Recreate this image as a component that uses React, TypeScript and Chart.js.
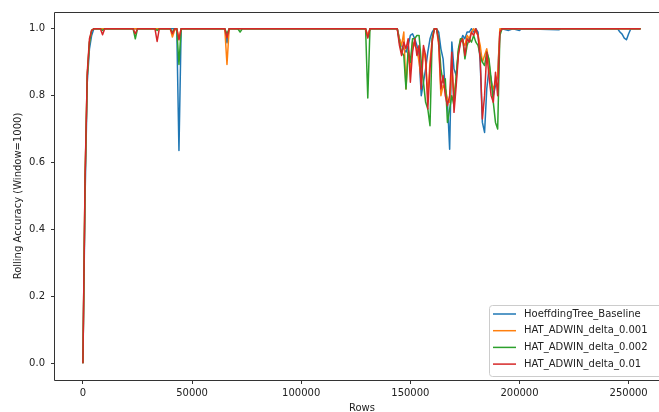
import React, { useEffect, useRef } from 'react';
import { Chart, registerables } from 'chart.js';

Chart.register(...registerables);

// Shared x positions (rows)
const rows = [
  0, 1000, 2000, 3000, 4000, 5000,
  8000, 9000, 10000,
  23000, 24000, 25000,
  33000, 34000, 35000,
  40000, 41000, 42000, 43000, 44000, 45000,
  65000, 66000, 67000,
  71000, 72000, 73000,
  129500, 130500, 131500,
  143000, 144000, 145000, 146000, 147000, 148000, 149000, 150000, 151000, 152000,
  153000, 154000, 155000, 156000, 157000, 158000, 159000, 160000, 161000, 162000,
  163000, 164000, 165000, 166000, 167000, 168000, 169000, 170000, 171000, 172000,
  173000, 174000, 175000, 176000, 177000, 178000, 179000, 180000, 181000, 182000,
  183000, 184000, 185000, 186000, 187000, 188000, 189000, 190000, 191000, 192000,
  195000, 197000, 200000, 201000, 218000, 219000,
  245000, 246000, 247000, 248000, 249000, 250000, 251000,
  255500,
];

const hoeffdingBaseline = [
  0, 0.50, 0.84, 0.94, 0.98, 1,
  1, 1, 1,
  1, 1, 1,
  1, 1, 1,
  1, 1, 1, 1, 0.636, 1,
  1, 0.958, 1,
  1, 1, 1,
  1, 0.975, 1,
  1, 1, 0.97, 0.95, 0.94, 0.93, 0.95, 0.98, 0.985, 0.97,
  0.95, 0.92, 0.80, 0.84, 0.88, 0.93, 0.97, 0.99, 1, 1,
  0.99, 0.94, 0.91, 0.82, 0.78, 0.64, 0.96, 0.88, 0.86, 0.93,
  0.96, 0.98, 0.97, 0.99, 0.99, 1, 0.99, 1, 0.99, 0.90,
  0.72, 0.69, 0.82, 0.88, 0.85, 0.80, 0.83, 0.86, 0.99, 1,
  0.995, 1, 0.995, 1, 0.997, 1,
  1, 0.99, 0.984, 0.972, 0.967, 0.985, 1,
  1,
];

const hatDelta0001 = [
  0, 0.55, 0.86, 0.96, 0.995, 1,
  1, 1, 1,
  1, 1, 1,
  1, 1, 1,
  1, 0.975, 0.995, 1, 0.97, 1,
  1, 0.893, 1,
  1, 1, 1,
  1, 0.98, 1,
  1, 1, 0.97, 0.95, 0.99, 0.82, 0.93, 0.88, 0.96, 0.95,
  0.94, 0.90, 0.85, 0.94, 0.90, 0.80, 0.90, 0.97, 1, 1,
  0.95, 0.80, 0.83, 0.82, 0.79, 0.78, 0.88, 0.80, 0.85, 0.93,
  0.97, 0.96, 0.95, 0.98, 0.97, 0.99, 1, 0.99, 0.98, 0.95,
  0.90, 0.92, 0.94, 0.90, 0.84, 0.82, 0.84, 0.86, 1, 1,
  1, 1, 1, 1, 1, 1,
  1, 1, 1, 1, 1, 1, 1,
  1,
];

const hatDelta0002 = [
  0, 0.55, 0.86, 0.96, 0.995, 1,
  1, 0.995, 1,
  1, 0.97, 1,
  1, 0.995, 1,
  1, 0.99, 1, 1, 0.893, 1,
  1, 0.985, 1,
  1, 0.99, 1,
  1, 0.793, 1,
  1, 1, 0.96, 0.93, 0.92, 0.82, 0.94, 0.90, 0.97, 0.97,
  0.98, 0.98, 0.90, 0.84, 0.78, 0.76, 0.71, 0.97, 1, 1,
  0.97, 0.88, 0.84, 0.85, 0.72, 0.76, 0.80, 0.77, 0.86, 0.94,
  0.97, 0.97, 0.91, 0.95, 0.97, 0.96, 0.98, 0.96, 0.95, 0.92,
  0.90, 0.89, 0.93, 0.91, 0.85, 0.78, 0.72, 0.70, 0.98, 1,
  1, 1, 1, 1, 1, 1,
  1, 1, 1, 1, 1, 1, 1,
  1,
];

const hatDelta001 = [
  0, 0.56, 0.87, 0.97, 0.995, 1,
  1, 0.982, 1,
  1, 0.985, 1,
  1, 0.962, 1,
  1, 0.985, 1, 1, 0.967, 1,
  1, 0.973, 1,
  1, 1, 1,
  1, 0.972, 1,
  1, 1, 0.95, 0.92, 0.96, 0.94, 0.97, 0.84, 0.93, 0.97,
  0.92, 0.95, 0.82, 0.95, 0.92, 0.76, 0.88, 0.96, 1, 1,
  0.96, 0.82, 0.86, 0.80, 0.77, 0.80, 0.93, 0.75, 0.83, 0.92,
  0.96, 0.97, 0.92, 0.97, 0.96, 0.99, 0.98, 1, 0.98, 0.91,
  0.73, 0.80, 0.93, 0.86, 0.80, 0.78, 0.87, 0.80, 0.99, 1,
  1, 1, 1, 1, 1, 1,
  1, 1, 1, 1, 1, 1, 1,
  1,
];

const seriesNames = [
  'HoeffdingTree_Baseline',
  'HAT_ADWIN_delta_0.001',
  'HAT_ADWIN_delta_0.002',
  'HAT_ADWIN_delta_0.01',
];
const seriesValues = [hoeffdingBaseline, hatDelta0001, hatDelta0002, hatDelta001];
const seriesColors = ['#1f77b4', '#ff7f0e', '#2ca02c', '#d62728'];
const xTicks = [0, 50000, 100000, 150000, 200000, 250000];
const yTicks = [0, 0.2, 0.4, 0.6, 0.8, 1.0];

const FONT = 'DejaVu Sans';
const TEXT = '#222222';

const spinesPlugin = {
  id: 'spines',
  afterDatasetsDraw(chart: any) {
    const { ctx, chartArea } = chart;
    const { left, top, right, bottom } = chartArea;
    ctx.save();
    ctx.strokeStyle = '#333333';
    ctx.lineWidth = 1;
    ctx.beginPath();
    ctx.moveTo(Math.round(left) - 0.5, Math.round(bottom) + 0.5);
    ctx.lineTo(Math.round(left) - 0.5, Math.round(top) + 0.5);
    ctx.lineTo(Math.round(right) + 0.5, Math.round(top) + 0.5);
    ctx.lineTo(Math.round(right) + 0.5, Math.round(bottom) + 0.5);
    ctx.closePath();
    ctx.stroke();
    ctx.restore();
  },
};

const legendPlugin = {
  id: 'mplLegend',
  afterDraw(chart: any) {
    const ctx = chart.ctx;
    ctx.save();
    const x0 = 489.5;
    const y0 = 305.5;
    const w = 200;
    const h = 71;
    const r = 3;
    ctx.beginPath();
    ctx.moveTo(x0 + r, y0);
    ctx.lineTo(x0 + w - r, y0);
    ctx.arcTo(x0 + w, y0, x0 + w, y0 + r, r);
    ctx.lineTo(x0 + w, y0 + h - r);
    ctx.arcTo(x0 + w, y0 + h, x0 + w - r, y0 + h, r);
    ctx.lineTo(x0 + r, y0 + h);
    ctx.arcTo(x0, y0 + h, x0, y0 + h - r, r);
    ctx.lineTo(x0, y0 + r);
    ctx.arcTo(x0, y0, x0 + r, y0, r);
    ctx.closePath();
    ctx.fillStyle = 'rgba(255,255,255,0.8)';
    ctx.fill();
    ctx.strokeStyle = '#cccccc';
    ctx.lineWidth = 1;
    ctx.stroke();
    ctx.font = `10px "${FONT}"`;
    ctx.textBaseline = 'middle';
    ctx.textAlign = 'left';
    seriesNames.forEach((name, i) => {
      const y = 314 + i * 16.7;
      ctx.strokeStyle = seriesColors[i];
      ctx.lineWidth = 1.5;
      ctx.beginPath();
      ctx.moveTo(493, y);
      ctx.lineTo(516, y);
      ctx.stroke();
      ctx.fillStyle = TEXT;
      ctx.fillText(name, 524, y);
    });
    ctx.restore();
  },
};

export default function App() {
  const canvasRef = useRef<HTMLCanvasElement | null>(null);

  useEffect(() => {
    const canvas = canvasRef.current;
    if (!canvas) return;
    const order = [3, 2, 1, 0];
    const datasets = order.map((i) => ({
      label: seriesNames[i],
      data: rows.map((r, k) => ({ x: r, y: seriesValues[i][k] })),
      borderColor: seriesColors[i],
      backgroundColor: seriesColors[i],
      borderWidth: 1.5,
      pointRadius: 0,
      tension: 0,
      fill: false,
      borderJoinStyle: 'round' as const,
    }));

    const chart = new Chart(canvas, {
      type: 'line',
      data: { datasets },
      options: {
        animation: false,
        responsive: false,
        devicePixelRatio: 1,
        events: [],
        layout: { padding: { left: 0, top: 12, right: 11, bottom: 0 } },
        plugins: {
          legend: { display: false },
          tooltip: { enabled: false },
        },
        scales: {
          x: {
            type: 'linear',
            position: 'bottom',
            min: -12785,
            max: 268485,
            afterBuildTicks: (axis: any) => {
              axis.ticks = xTicks.map((v) => ({ value: v }));
            },
            afterFit: (axis: any) => {
              axis.height = 40;
            },
            grid: {
              display: true,
              drawOnChartArea: false,
              drawTicks: true,
              tickLength: 4,
              color: '#333333',
              lineWidth: 1,
            },
            border: { display: false },
            ticks: {
              autoSkip: false,
              maxRotation: 0,
              padding: 3,
              color: TEXT,
              font: { family: FONT, size: 10 },
              callback: (v: any) => String(v),
            },
            title: {
              display: true,
              text: 'Rows',
              color: TEXT,
              font: { family: FONT, size: 10 },
              padding: { top: 0, bottom: 6 },
            },
          },
          y: {
            type: 'linear',
            min: -0.05,
            max: 1.05,
            afterBuildTicks: (axis: any) => {
              axis.ticks = yTicks.map((v) => ({ value: v }));
            },
            afterFit: (axis: any) => {
              axis.width = 55;
            },
            grid: {
              display: true,
              drawOnChartArea: false,
              drawTicks: true,
              tickLength: 4,
              color: '#333333',
              lineWidth: 1,
            },
            border: { display: false },
            ticks: {
              autoSkip: false,
              padding: 6,
              color: TEXT,
              font: { family: FONT, size: 10 },
              callback: (v: any) => Number(v).toFixed(1),
            },
            title: {
              display: true,
              text: 'Rolling Accuracy (Window=1000)',
              color: TEXT,
              font: { family: FONT, size: 10 },
              padding: { top: 12, bottom: 0 },
            },
          },
        },
      },
      plugins: [spinesPlugin, legendPlugin],
    });
    return () => chart.destroy();
  }, []);

  return (
    <div
      style={{
        position: 'fixed',
        left: 0,
        top: 0,
        width: 659,
        height: 412,
        overflow: 'hidden',
        background: '#ffffff',
      }}
    >
      <canvas ref={canvasRef} width={680} height={420} style={{ display: 'block' }} />
    </div>
  );
}
